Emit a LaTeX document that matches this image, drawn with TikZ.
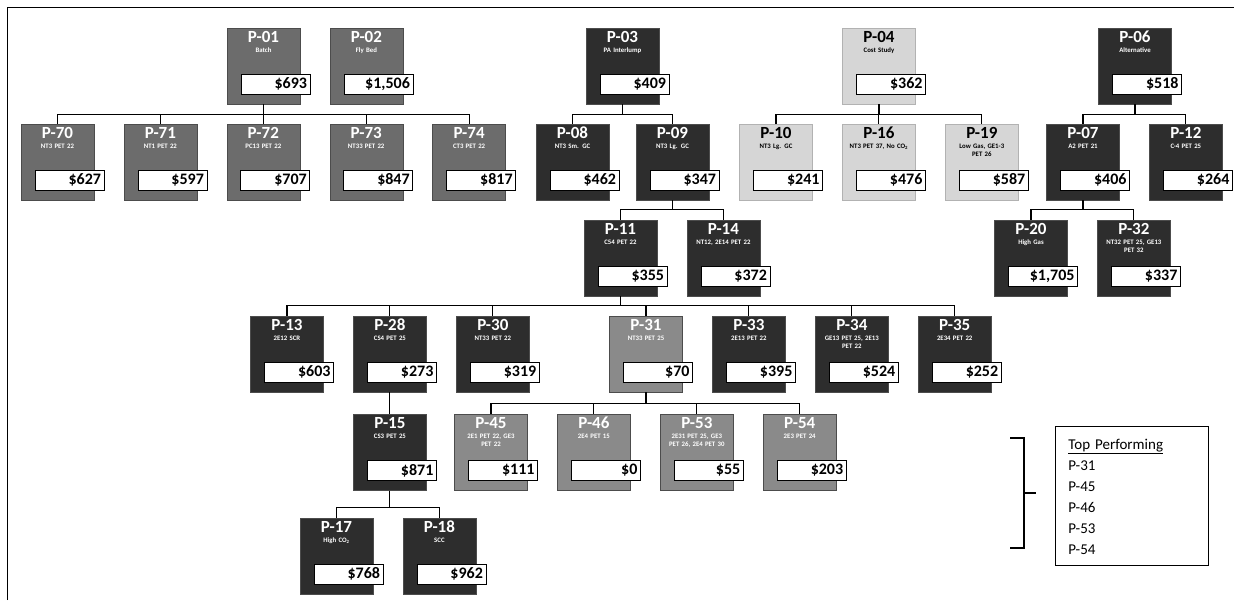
\documentclass[tikz,border=0pt]{standalone}
\usepackage{fontspec}
\setmainfont{Carlito}
\usepackage{tikz}
\usetikzlibrary{positioning}
\usepackage{xcolor}
\definecolor{darkbox}{RGB}{45,45,45}
\definecolor{midbox}{RGB}{108,108,108}
\definecolor{bestbox}{RGB}{138,138,138}
\definecolor{lightbox}{RGB}{214,214,214}
\newcommand{\projid}[1]{{\fontsize{17}{17}\selectfont #1}\\[2pt]}

\begin{document}
\begin{tikzpicture}[
    x=1pt,y=-1pt,
    node distance=22pt and 29.5pt,
    proj/.style={rectangle,text width=69pt,inner xsep=2pt,inner ysep=2pt,text height=12pt,text depth=60pt,align=center,font=\fontsize{6.8}{8}\selectfont\bfseries,text=white,draw=black!70,line width=0.4pt},
    darkp/.style={proj,fill=darkbox},
    midp/.style={proj,fill=midbox},
    bestp/.style={proj,fill=bestbox},
    lightp/.style={proj,fill=lightbox,text=black,draw=black!30},
    valbox/.style={rectangle,draw=black,fill=white,line width=0.8pt,text width=63pt,inner xsep=3pt,inner ysep=0pt,minimum height=20pt,align=right,font=\fontsize{16}{16}\selectfont\bfseries,text=black},
    conn/.style={line width=1.1pt,black},
    legendbox/.style={rectangle,draw=black,line width=0.8pt,text width=127pt,inner xsep=13pt,inner ysep=10pt,text height=13pt,text depth=106pt,align=left,font=\fontsize{15}{21}\selectfont},
    brk/.style={line width=2.2pt,black}
]
\useasboundingbox (0,0) rectangle (1234,600);
\draw[line width=1pt] (7,600) -- (7,7) -- (1234,7);

% row 1
\node[midp] (p01) at (263.5,66) {\projid{P-01}Batch};
\node[midp,right=of p01] (p02) {\projid{P-02}Fly Bed};
\node[darkp] (p03) at (622.5,66) {\projid{P-03}PA Interlump};
\node[lightp] (p04) at (879,66) {\projid{P-04}Cost Study};
\node[darkp] (p06) at (1135,66) {\projid{P-06}Alternative};

% row 2
\node[midp] (p70) at (57.5,162) {\projid{P-70}NT3 PET 22};
\node[midp,right=of p70] (p71) {\projid{P-71}NT1 PET 22};
\node[midp,right=of p71] (p72) {\projid{P-72}PC13 PET 22};
\node[midp,right=of p72] (p73) {\projid{P-73}NT33 PET 22};
\node[midp,right=of p73] (p74) {\projid{P-74}CT3 PET 22};
\node[darkp] (p08) at (572.5,162) {\projid{P-08}NT3 Sm. GC};
\node[darkp] (p09) at (672.5,162) {\projid{P-09}NT3 Lg. GC};
\node[lightp] (p10) at (776,162) {\projid{P-10}NT3 Lg. GC};
\node[lightp,right=of p10] (p16) {\projid{P-16}NT3 PET 37, No CO\textsubscript{2}};
\node[lightp,right=of p16] (p19) {\projid{P-19}Low Gas, GE1-3\\PET 26};
\node[darkp] (p07) at (1083,162) {\projid{P-07}A2 PET 21};
\node[darkp,right=of p07] (p12) {\projid{P-12}C-4 PET 25};

% row 3
\node[darkp] (p11) at (620.5,258) {\projid{P-11}C54 PET 22};
\node[darkp,right=of p11] (p14) {\projid{P-14}NT12, 2E14 PET 22};
\node[darkp] (p20) at (1031,258) {\projid{P-20}High Gas};
\node[darkp,right=of p20] (p32) {\projid{P-32}NT32 PET 25, GE13\\PET 32};

% row 4
\node[darkp] (p13) at (287,354) {\projid{P-13}2E12 SCR};
\node[darkp,right=of p13] (p28) {\projid{P-28}CS4 PET 25};
\node[darkp,right=of p28] (p30) {\projid{P-30}NT33 PET 22};
\node[bestp] (p31) at (646,354) {\projid{P-31}NT33 PET 25};
\node[darkp,right=of p31] (p33) {\projid{P-33}2E13 PET 22};
\node[darkp,right=of p33] (p34) {\projid{P-34}GE13 PET 25, 2E13\\PET 22};
\node[darkp,right=of p34] (p35) {\projid{P-35}2E34 PET 22};

% row 5
\node[darkp,below=of p28] (p15) {\projid{P-15}CS3 PET 25};
\node[bestp] (p45) at (491,452) {\projid{P-45}2E1 PET 22, GE3\\PET 22};
\node[bestp,right=of p45] (p46) {\projid{P-46}2E4 PET 15};
\node[bestp,right=of p46] (p53) {\projid{P-53}2E31 PET 25, GE3\\PET 26, 2E4 PET 30};
\node[bestp,right=of p53] (p54) {\projid{P-54}2E3 PET 24};

% row 6
\node[darkp] (p17) at (336.5,556) {\projid{P-17}High CO\textsubscript{2}};
\node[darkp,right=of p17] (p18) {\projid{P-18}SCC};

% values
\node[valbox] (v01) at ([shift={(12pt,-18pt)}]p01.center) {\$693};
\node[valbox] (v02) at ([shift={(12pt,-18pt)}]p02.center) {\$1,506};
\node[valbox] (v03) at ([shift={(12pt,-18pt)}]p03.center) {\$409};
\node[valbox] (v04) at ([shift={(12pt,-18pt)}]p04.center) {\$362};
\node[valbox] (v06) at ([shift={(12pt,-18pt)}]p06.center) {\$518};
\node[valbox] (v70) at ([shift={(12pt,-18pt)}]p70.center) {\$627};
\node[valbox] (v71) at ([shift={(12pt,-18pt)}]p71.center) {\$597};
\node[valbox] (v72) at ([shift={(12pt,-18pt)}]p72.center) {\$707};
\node[valbox] (v73) at ([shift={(12pt,-18pt)}]p73.center) {\$847};
\node[valbox] (v74) at ([shift={(12pt,-18pt)}]p74.center) {\$817};
\node[valbox] (v08) at ([shift={(12pt,-18pt)}]p08.center) {\$462};
\node[valbox] (v09) at ([shift={(12pt,-18pt)}]p09.center) {\$347};
\node[valbox] (v10) at ([shift={(12pt,-18pt)}]p10.center) {\$241};
\node[valbox] (v16) at ([shift={(12pt,-18pt)}]p16.center) {\$476};
\node[valbox] (v19) at ([shift={(12pt,-18pt)}]p19.center) {\$587};
\node[valbox] (v07) at ([shift={(12pt,-18pt)}]p07.center) {\$406};
\node[valbox] (v12) at ([shift={(12pt,-18pt)}]p12.center) {\$264};
\node[valbox] (v11) at ([shift={(12pt,-18pt)}]p11.center) {\$355};
\node[valbox] (v14) at ([shift={(12pt,-18pt)}]p14.center) {\$372};
\node[valbox] (v20) at ([shift={(12pt,-18pt)}]p20.center) {\$1,705};
\node[valbox] (v32) at ([shift={(12pt,-18pt)}]p32.center) {\$337};
\node[valbox] (v13) at ([shift={(12pt,-18pt)}]p13.center) {\$603};
\node[valbox] (v28) at ([shift={(12pt,-18pt)}]p28.center) {\$273};
\node[valbox] (v30) at ([shift={(12pt,-18pt)}]p30.center) {\$319};
\node[valbox] (v31) at ([shift={(12pt,-18pt)}]p31.center) {\$70};
\node[valbox] (v33) at ([shift={(12pt,-18pt)}]p33.center) {\$395};
\node[valbox] (v34) at ([shift={(12pt,-18pt)}]p34.center) {\$524};
\node[valbox] (v35) at ([shift={(12pt,-18pt)}]p35.center) {\$252};
\node[valbox] (v15) at ([shift={(12pt,-18pt)}]p15.center) {\$871};
\node[valbox] (v45) at ([shift={(12pt,-18pt)}]p45.center) {\$111};
\node[valbox] (v46) at ([shift={(12pt,-18pt)}]p46.center) {\$0};
\node[valbox] (v53) at ([shift={(12pt,-18pt)}]p53.center) {\$55};
\node[valbox] (v54) at ([shift={(12pt,-18pt)}]p54.center) {\$203};
\node[valbox] (v17) at ([shift={(12pt,-18pt)}]p17.center) {\$768};
\node[valbox] (v18) at ([shift={(12pt,-18pt)}]p18.center) {\$962};

% tree lines
\draw[conn] (p01.south) |- ([yshift=9pt]p70.north) -- (p70.north);
\draw[conn] (p01.south) |- ([yshift=9pt]p71.north) -- (p71.north);
\draw[conn] (p01.south) |- ([yshift=9pt]p72.north) -- (p72.north);
\draw[conn] (p01.south) |- ([yshift=9pt]p73.north) -- (p73.north);
\draw[conn] (p01.south) |- ([yshift=9pt]p74.north) -- (p74.north);
\draw[conn] (p03.south) |- ([yshift=9pt]p08.north) -- (p08.north);
\draw[conn] (p03.south) |- ([yshift=9pt]p09.north) -- (p09.north);
\draw[conn] (p04.south) |- ([yshift=9pt]p10.north) -- (p10.north);
\draw[conn] (p04.south) |- ([yshift=9pt]p16.north) -- (p16.north);
\draw[conn] (p04.south) |- ([yshift=9pt]p19.north) -- (p19.north);
\draw[conn] (p06.south) |- ([yshift=9pt]p07.north) -- (p07.north);
\draw[conn] (p06.south) |- ([yshift=9pt]p12.north) -- (p12.north);
\draw[conn] (p09.south) |- ([yshift=10pt]p11.north) -- (p11.north);
\draw[conn] (p09.south) |- ([yshift=10pt]p14.north) -- (p14.north);
\draw[conn] (p07.south) |- ([yshift=10pt]p20.north) -- (p20.north);
\draw[conn] (p07.south) |- ([yshift=10pt]p32.north) -- (p32.north);
\draw[conn] (p11.south) |- ([yshift=10pt]p13.north) -- (p13.north);
\draw[conn] (p11.south) |- ([yshift=10pt]p28.north) -- (p28.north);
\draw[conn] (p11.south) |- ([yshift=10pt]p30.north) -- (p30.north);
\draw[conn] (p11.south) |- ([yshift=10pt]p31.north) -- (p31.north);
\draw[conn] (p11.south) |- ([yshift=10pt]p33.north) -- (p33.north);
\draw[conn] (p11.south) |- ([yshift=10pt]p34.north) -- (p34.north);
\draw[conn] (p11.south) |- ([yshift=10pt]p35.north) -- (p35.north);
\draw[conn] (p28.south) -- (p15.north);
\draw[conn] (p31.south) |- ([yshift=10pt]p45.north) -- (p45.north);
\draw[conn] (p31.south) |- ([yshift=10pt]p46.north) -- (p46.north);
\draw[conn] (p31.south) |- ([yshift=10pt]p53.north) -- (p53.north);
\draw[conn] (p31.south) |- ([yshift=10pt]p54.north) -- (p54.north);
\draw[conn] (p15.south) |- ([yshift=10pt]p17.north) -- (p17.north);
\draw[conn] (p15.south) |- ([yshift=10pt]p18.north) -- (p18.north);

% legend
\node[legendbox,anchor=north west] (legend) at (1055,426) {\underline{Top Performing}\\P-31\\P-45\\P-46\\P-53\\P-54};
\draw[brk] (1010,438) -- (1024,438) -- (1024,548) -- (1010,548);
\draw[brk] (1024,493) -- (1036,493);
\end{tikzpicture}
\end{document}
